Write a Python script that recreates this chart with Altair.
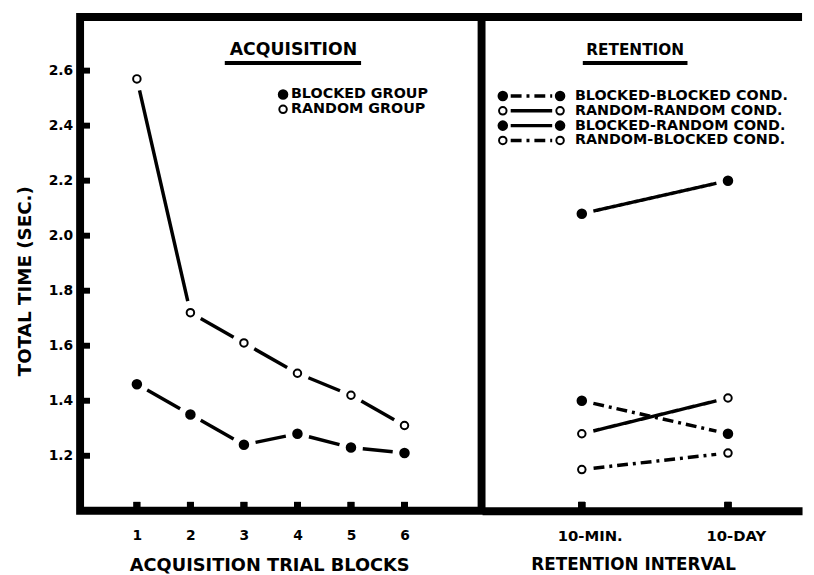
import altair as alt
import pandas as pd

# ---------------- data ----------------
blocks = [1, 2, 3, 4, 5, 6]
blocked_group = [1.46, 1.35, 1.24, 1.28, 1.23, 1.21]
random_group = [2.57, 1.72, 1.61, 1.50, 1.42, 1.31]
group_names = ["BLOCKED", "RANDOM"]
group_labels = ["BLOCKED GROUP", "RANDOM GROUP"]

intervals = ["10-MIN.", "10-DAY"]
cond_labels = ["BLOCKED-BLOCKED COND.", "RANDOM-RANDOM COND.",
               "BLOCKED-RANDOM COND.", "RANDOM-BLOCKED COND."]
cond_practice = ["BLOCKED", "RANDOM", "BLOCKED", "RANDOM"]
cond_test = ["BLOCKED", "RANDOM", "RANDOM", "BLOCKED"]
cond_10min = [1.40, 1.28, 2.08, 1.15]
cond_10day = [1.28, 1.41, 2.20, 1.21]

y_ticks = [1.2, 1.4, 1.6, 1.8, 2.0, 2.2, 2.4, 2.6]
y_domain = [1.0, 2.795]

# ---------------- styling / layout ----------------
FONT = "DejaVu Sans"
LW = 3.5
H = 500
W1 = 406.5
W2 = 324
GAP = 12          # blank space between a line end and its marker centre (px)
DASHDOT = [11, 5, 3, 5]
FILL = {"BLOCKED": "black", "RANDOM": "white"}
SIZE = {"BLOCKED": 75, "RANDOM": 58}
x_acq_domain = [-0.061, 7.44]
x_ret_domain = [-101 / 148, (324 - 101) / 148]

# ---------------- tables ----------------
acq = pd.DataFrame({
    "block": blocks * 2,
    "group": [group_names[0]] * len(blocks) + [group_names[1]] * len(blocks),
    "time": blocked_group + random_group,
})
rows = []
for lab, p, t, a, b in zip(cond_labels, cond_practice, cond_test, cond_10min, cond_10day):
    for ix, v in enumerate([a, b]):
        rows.append({"cond": lab, "practice": p, "test": t, "ix": ix, "time": v})
ret = pd.DataFrame(rows)
one = pd.DataFrame({"k": [0]})


def segments(xs, ys, xdom, width, extra):
    """Connecting segments between consecutive points, shortened at both ends
    so that a small gap is left around each marker."""
    out = []
    for i in range(len(xs) - 1):
        x0, x1, y0, y1 = xs[i], xs[i + 1], ys[i], ys[i + 1]
        dxp = (x1 - x0) / (xdom[1] - xdom[0]) * width
        dyp = (y1 - y0) / (y_domain[1] - y_domain[0]) * H
        t = GAP / (dxp ** 2 + dyp ** 2) ** 0.5
        row = dict(extra)
        row.update({"xa": x0 + t * (x1 - x0), "ya": y0 + t * (y1 - y0),
                    "xb": x1 - t * (x1 - x0), "yb": y1 - t * (y1 - y0)})
        out.append(row)
    return out


acq_seg = pd.DataFrame(
    segments(blocks, blocked_group, x_acq_domain, W1, {"group": "BLOCKED"})
    + segments(blocks, random_group, x_acq_domain, W1, {"group": "RANDOM"}))
ret_seg = pd.DataFrame(sum(
    [segments([0, 1], [a, b], x_ret_domain, W2, {"test": t})
     for a, b, t in zip(cond_10min, cond_10day, cond_test)], []))

yscale = alt.Scale(domain=y_domain, nice=False, zero=False)
fill_scale = alt.Scale(domain=group_names, range=[FILL[g] for g in group_names])
size_scale = alt.Scale(domain=group_names, range=[SIZE[g] for g in group_names])
dash_scale = alt.Scale(domain=group_names, range=[DASHDOT, [1, 0]])


def text(x, y, s, size=14.5, align="left"):
    return alt.Chart(one).mark_text(
        font=FONT, fontWeight="bold", fontSize=size, align=align,
        baseline="middle", color="black"
    ).encode(x=alt.value(x), y=alt.value(y), text=alt.value(s))


def marker(x, y, g):
    return alt.Chart(one).mark_point(
        shape="circle", filled=True, fill=FILL[g], stroke="black", strokeWidth=2
    ).encode(x=alt.value(x), y=alt.value(y), size=alt.value(SIZE[g]),
             opacity=alt.value(1))


def hline(x1, x2, y, width=LW, dash=None):
    kw = dict(color="black", strokeWidth=width)
    if dash is not None:
        kw["strokeDash"] = dash
    return alt.Chart(one).mark_rule(**kw).encode(
        x=alt.value(x1), x2=alt.value(x2), y=alt.value(y))


def points(data, x, y, field):
    return alt.Chart(data).mark_point(
        shape="circle", filled=True, stroke="black", strokeWidth=2
    ).encode(
        x=x, y=y, opacity=alt.value(1),
        fill=alt.Fill(field, scale=fill_scale, legend=None),
        size=alt.Size(field, scale=size_scale, legend=None))


# ---------------- left panel: acquisition ----------------
acq_xscale = alt.Scale(domain=x_acq_domain, nice=False, zero=False)
acq_xaxis = alt.Axis(values=blocks, format="d", title="ACQUISITION TRIAL BLOCKS",
                     grid=False, domain=False, ticks=False, tickSize=0,
                     labelPadding=18, minExtent=32, maxExtent=32,
                     titlePadding=14, titleX=191.5, titleFontSize=18)
acq_yaxis = alt.Axis(values=y_ticks, format=".1f", title="TOTAL TIME (SEC.)",
                     grid=False, domain=False, ticks=False, tickSize=0,
                     labelPadding=7.5, minExtent=33, maxExtent=33,
                     titlePadding=13, titleY=267, titleFontSize=18.5)
x_acq = alt.X("block:Q", scale=acq_xscale, axis=acq_xaxis)
y_acq = alt.Y("time:Q", scale=yscale, axis=acq_yaxis)

left_layers = [
    alt.Chart(acq_seg).mark_rule(color="black", strokeWidth=LW).encode(
        x=alt.X("xa:Q", scale=acq_xscale, axis=acq_xaxis), x2="xb:Q",
        y=alt.Y("ya:Q", scale=yscale, axis=acq_yaxis), y2="yb:Q"),
    points(acq, x_acq, y_acq, "group:N"),
    alt.Chart(pd.DataFrame({"time": y_ticks})).mark_rule(color="black", strokeWidth=6).encode(
        y=y_acq, x=alt.value(0), x2=alt.value(10)),
    alt.Chart(acq).mark_rule(color="black", strokeWidth=7).encode(
        x=x_acq, y=alt.value(H), y2=alt.value(H - 9)),
    text(216, 34, "ACQUISITION", size=17.5, align="center"),
    hline(146.5, 284.5, 46.5, width=4),
]
for i, (g, lab) in enumerate(zip(group_names, group_labels)):
    yy = 78.5 + 15 * i
    left_layers.append(marker(205.5, yy, g))
    left_layers.append(text(213.5, yy, lab))

left = alt.layer(*left_layers).properties(
    width=W1, height=H,
    view=alt.ViewBackground(stroke="black", strokeWidth=8),
)

# ---------------- right panel: retention ----------------
ret_xscale = alt.Scale(domain=x_ret_domain, nice=False, zero=False)
ret_xaxis = alt.Axis(title="RETENTION INTERVAL", values=list(range(len(intervals))),
                     labelExpr=f"{intervals!r}[datum.value]", labelAngle=0, grid=False,
                     ticks=False, tickSize=0, domain=True, domainColor="black",
                     domainWidth=8, labelPadding=18, labelOffset=8, labelFontSize=15,
                     minExtent=32, maxExtent=32, titlePadding=14, titleX=153,
                     titleFontSize=17)
x_ret = alt.X("ix:Q", scale=ret_xscale, axis=ret_xaxis)
y_ret = alt.Y("time:Q", scale=yscale, axis=None)

right_layers = [
    alt.Chart(ret_seg).mark_rule(color="black", strokeWidth=LW).encode(
        x=alt.X("xa:Q", scale=ret_xscale, axis=ret_xaxis), x2="xb:Q",
        y=alt.Y("ya:Q", scale=yscale, axis=None), y2="yb:Q",
        strokeDash=alt.StrokeDash("test:N", scale=dash_scale, legend=None)),
    points(ret, x_ret, y_ret, "practice:N"),
    alt.Chart(ret).mark_rule(color="black", strokeWidth=7).encode(
        x=x_ret, y=alt.value(H), y2=alt.value(H - 9)),
    hline(0, W2, 0, width=8),
    text(155, 34, "RETENTION", size=15.5, align="center"),
    hline(102, 208, 46.5, width=4),
]
for i, (lab, p, t) in enumerate(zip(cond_labels, cond_practice, cond_test)):
    yy = 80 + 15 * i
    right_layers.append(hline(29, 71, yy, dash=DASHDOT if t == "BLOCKED" else None))
    right_layers.append(marker(21, yy, p))
    right_layers.append(marker(79, yy, p))
    right_layers.append(text(94, yy, lab))

right = alt.layer(*right_layers).properties(
    width=W2, height=H,
    view=alt.ViewBackground(stroke="transparent", strokeWidth=0),
)

chart = alt.hconcat(left, right, spacing=0, bounds="flush").properties(
    padding={"left": 4, "top": 1.5, "right": 0, "bottom": 0},
).configure_axis(
    labelFont=FONT, labelFontSize=14, labelFontWeight="bold", labelColor="black",
    titleFont=FONT, titleFontSize=17, titleFontWeight="bold", titleColor="black",
)

chart.save("out.html", embed_options={"renderer": "svg", "actions": False})
